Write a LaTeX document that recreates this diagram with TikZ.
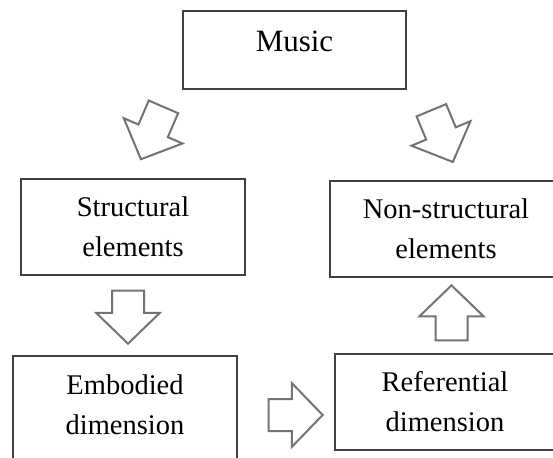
\documentclass[tikz,border=0pt]{standalone}
\usepackage{fontspec}
\setmainfont{Liberation Serif}
\usetikzlibrary{shapes.arrows,calc}
\tikzstyle{box} = [rectangle, draw=black!75, line width=1.3pt, inner sep=0pt, align=center, font=\fontsize{28.5}{40}\selectfont]
\tikzstyle{fat} = [single arrow, draw=black!55, line width=2pt, inner sep=0pt, inner ysep=15pt, single arrow head extend=16pt, single arrow tip angle=92, anchor=tail]

\begin{document}
\begin{tikzpicture}[x=1pt, y=-1pt]
    \clip (0,0) rectangle (553,457);
    \node[box, minimum width=223pt, minimum height=78pt, font=\fontsize{31}{40}\selectfont] (music) at (294.5,50) {Music\rule[-17pt]{0pt}{17pt}};
    \node[box, minimum width=224pt, minimum height=96pt] (struct) at (133,227) {Structural\\elements};
    \node[box, minimum width=232pt, minimum height=96pt] (nonstruct) at (446,229) {Non-structural\\elements};
    \node[box, minimum width=224pt, minimum height=130pt] (embod) at (125,421) {Embodied\\dimension\rule[-33pt]{0pt}{33pt}};
    \node[box, minimum width=220pt, minimum height=96pt] (refer) at (445,402) {Referential\\dimension};

    % block arrows
    \node[fat, minimum height=57pt, rotate=-113.3] (split1) at ($(music.south west)+(-18.5,16.3)$) {};
    \node[fat, minimum height=56pt, rotate=-67.4] (split2) at ($(music.south east)+(24.3,19.7)$) {};
    \node[fat, minimum height=53pt, rotate=-90] (down) at ($(struct.south)+(-5,14)$) {};
    \node[fat, minimum height=54pt] (across) at ($(embod.east)+(30,-6)$) {};
    \node[fat, minimum height=55pt, rotate=90] (up) at ($(refer.north)+(6.5,-12)$) {};
\end{tikzpicture}
\end{document}
